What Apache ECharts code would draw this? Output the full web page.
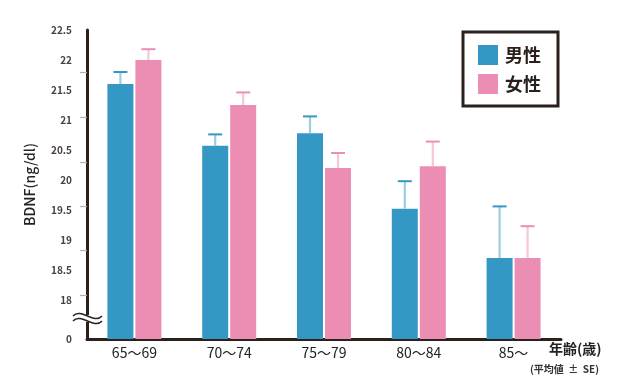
<!DOCTYPE html>
<html><head><meta charset="utf-8">
<script src="https://cdn.jsdelivr.net/npm/echarts@6/dist/echarts.min.js"></script>
<style>html,body{margin:0;padding:0;background:#fff}#c{width:640px;height:380px}</style>
</head><body><div id="c"></div>
<script>
const categories = ['65〜69', '70〜74', '75〜79', '80〜84', '85〜'];
const maleMean = [21.6, 20.57, 20.78, 19.52, 18.7];
const maleSE = [0.2, 0.19, 0.28, 0.46, 0.86];
const femaleMean = [22.0, 21.25, 20.2, 20.23, 18.7];
const femaleSE = [0.18, 0.21, 0.25, 0.41, 0.53];
const yLabelValues = [17.35, 18, 18.5, 19, 19.5, 20, 20.5, 21, 21.5, 22, 22.5];
const yTickValues = [18.08, 18.83, 19.57, 20.3, 21.05, 21.79];

const FONT = '"Noto Sans CJK JP", "Noto Sans", sans-serif';
const DARK = '#2b211c';
const BLUE = '#3597c4', BLUE_L = '#9ccde3';
const PINK = '#ec8db4', PINK_L = '#f6c5d9';
const BAR_W = 26, GAP = 2;

function errSeries(name, mean, se, offset, cap, stem) {
  return {
    type: 'custom', name: name + '_err', z: 5, silent: true,
    data: mean.map((m, i) => [i, m, m + se[i]]),
    encode: { x: 0, y: [1, 2] },
    renderItem: function (params, api) {
      const p0 = api.coord([api.value(0), api.value(1)]);
      const p1 = api.coord([api.value(0), api.value(2)]);
      const x = p0[0] + offset;
      return {
        type: 'group',
        children: [
          { type: 'line', shape: { x1: x, y1: p0[1], x2: x, y2: p1[1] }, style: { stroke: stem, lineWidth: 2.2 } },
          { type: 'line', shape: { x1: x - 7, y1: p1[1], x2: x + 7, y2: p1[1] }, style: { stroke: cap, lineWidth: 2 } }
        ]
      };
    }
  };
}

const chart = echarts.init(document.getElementById('c'), null, { renderer: 'canvas' });
chart.setOption({
  animation: false,
  backgroundColor: '#fff',
  grid: { left: 87, right: 79, top: 30, bottom: 41, containLabel: false },
  legend: {
    data: ['男性', '女性'], orient: 'vertical', left: 478, top: 45, padding: 0,
    itemWidth: 20, itemHeight: 20, itemGap: 9, icon: 'rect',
    textStyle: { fontFamily: FONT, fontSize: 18, fontWeight: 'bold', color: DARK, padding: [0, 0, 0, 2] }
  },
  xAxis: {
    type: 'category', data: categories,
    axisLine: { lineStyle: { color: DARK, width: 3 } },
    axisTick: { show: false },
    axisLabel: { fontFamily: FONT, fontSize: 14, color: '#222', margin: 7 }
  },
  yAxis: {
    type: 'value', min: 17.35, max: 22.5,
    name: 'BDNF(ng/dl)', nameLocation: 'middle', nameGap: 50,
    nameTextStyle: { fontFamily: FONT, fontSize: 14, color: '#222', fontWeight: 500 },
    axisLine: { show: true, lineStyle: { color: DARK, width: 3 } },
    axisTick: { show: true, length: 7, customValues: yTickValues, lineStyle: { color: '#b5b0b0', width: 1.2 } },
    axisLabel: {
      customValues: yLabelValues, margin: 15,
      fontFamily: FONT, fontSize: 10, fontWeight: 'bold', color: '#4a4040',
      formatter: v => v < 17.5 ? '0' : String(Math.round(v * 10) / 10)
    },
    splitLine: { show: false }
  },
  series: [
    { type: 'bar', name: '男性', data: maleMean, barWidth: BAR_W, barGap: (GAP / BAR_W * 100) + '%', itemStyle: { color: BLUE } },
    { type: 'bar', name: '女性', data: femaleMean, barWidth: BAR_W, itemStyle: { color: PINK } },
    errSeries('男性', maleMean, maleSE, -(BAR_W + GAP) / 2, BLUE, BLUE_L),
    errSeries('女性', femaleMean, femaleSE, (BAR_W + GAP) / 2, PINK, PINK_L)
  ],
  graphic: [
    { type: 'rect', shape: { x: 463, y: 32, width: 95, height: 74 }, style: { fill: 'none', stroke: DARK, lineWidth: 3 }, z: 10 },
    { type: 'polygon', shape: { points: [[73,315],[102,315],[102,322],[73,322]] }, style: { fill: '#fff' }, z: 20 },
    { type: 'bezierCurve', shape: { x1: 73, y1: 316, cpx1: 81, cpy1: 307, cpx2: 94, cpy2: 325, x2: 102, y2: 316 }, style: { fill: 'none', stroke: DARK, lineWidth: 1.5 }, z: 21 },
    { type: 'bezierCurve', shape: { x1: 73, y1: 321, cpx1: 81, cpy1: 312, cpx2: 94, cpy2: 330, x2: 102, y2: 321 }, style: { fill: 'none', stroke: DARK, lineWidth: 1.5 }, z: 21 },
    { type: 'text', left: 549, top: 342, style: { text: '年齢(歳)', fontFamily: FONT, fontSize: 14, fontWeight: 'bold', fill: '#222' }, z: 10 },
    { type: 'text', left: 530, top: 364, style: { text: '(平均値  ±  SE)', fontFamily: FONT, fontSize: 10, fontWeight: 'bold', fill: '#333' }, z: 10 }
  ]
});
</script></body></html>
